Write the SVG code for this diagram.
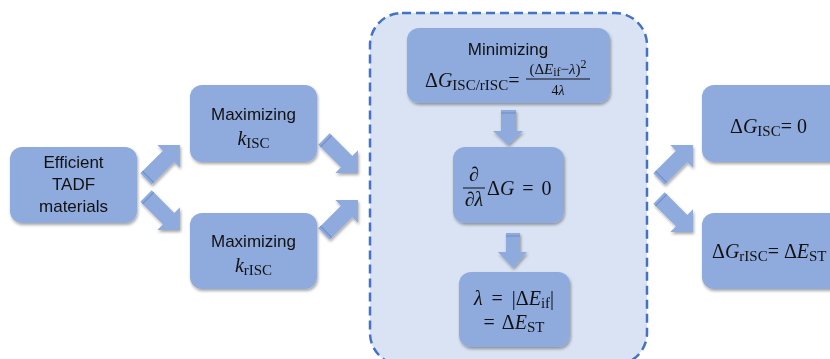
<svg xmlns="http://www.w3.org/2000/svg" width="830" height="359" viewBox="0 0 830 359">
<defs>
<filter id="sh" x="-10%" y="-10%" width="130%" height="140%">
<feDropShadow dx="1" dy="2" stdDeviation="1.5" flood-color="#000" flood-opacity="0.35"/>
</filter>
<path id="darr" d="M0,-8 L32,-8 L32,-16 L48,0 L32,16 L32,8 L0,8 Z"/>
</defs>
<style>
.box{fill:#8faadc;filter:url(#sh);}
.arr{fill:#8faadc;filter:url(#sh);}
.stripe{stroke:#6d8cc6;stroke-width:1;}
.t{font-family:"Liberation Sans","Open Sans",sans-serif;font-size:17px;fill:#111;text-anchor:middle;}
.m{font-family:"Liberation Serif","DejaVu Serif",serif;font-size:20px;fill:#111;}
.i{font-style:italic;}
.s{font-size:15px;}
.ss{font-size:12px;}
</style>
<rect x="0" y="0" width="830" height="359" fill="#fff"/>
<g id="container">
<rect x="370" y="13" width="277" height="352" rx="32" fill="#dae3f3" stroke="#4472c4" stroke-width="2.5" stroke-dasharray="9 5"/>
</g>
<g id="connectors">
<g class="arr">
<use href="#darr" transform="translate(146,179) rotate(-45)"/>
<use href="#darr" transform="translate(146,196) rotate(45)"/>
<use href="#darr" transform="translate(324,139) rotate(45)"/>
<use href="#darr" transform="translate(324,234) rotate(-45)"/>
<use href="#darr" transform="translate(659,179) rotate(-45)"/>
<use href="#darr" transform="translate(659,198) rotate(45)"/>
<path d="M501,110 L516,110 L516,131 L523,131 L508,145 L493,131 L501,131 Z"/>
<path d="M506,233 L520,233 L520,252 L527,252 L513,268 L498,252 L506,252 Z"/>
</g>
<g class="stripe">
<line x1="0" y1="-8" x2="0" y2="8" transform="translate(146,179) rotate(-45) translate(3,0)"/>
<line x1="0" y1="-8" x2="0" y2="8" transform="translate(146,196) rotate(45) translate(3,0)"/>
<line x1="0" y1="-8" x2="0" y2="8" transform="translate(324,139) rotate(45) translate(3,0)"/>
<line x1="0" y1="-8" x2="0" y2="8" transform="translate(324,234) rotate(-45) translate(3,0)"/>
<line x1="0" y1="-8" x2="0" y2="8" transform="translate(659,179) rotate(-45) translate(3,0)"/>
<line x1="0" y1="-8" x2="0" y2="8" transform="translate(659,198) rotate(45) translate(3,0)"/>
<line x1="501" y1="113" x2="516" y2="113"/>
<line x1="506" y1="236" x2="520" y2="236"/>
</g>
</g>
<g id="efficient">
<rect class="box" x="10" y="147" width="127" height="76" rx="12"/>
<text class="t" x="73.5" y="168">Efficient</text>
<text class="t" x="73.5" y="190">TADF</text>
<text class="t" x="73.5" y="212">materials</text>
</g>
<g id="max-kisc">
<rect class="box" x="190" y="85" width="127" height="77" rx="12"/>
<text class="t" x="253.5" y="120">Maximizing</text>
<text class="m" x="253.5" y="145" text-anchor="middle"><tspan class="i">k</tspan><tspan class="s" dy="3">ISC</tspan></text>
</g>
<g id="max-krisc">
<rect class="box" x="190" y="213" width="127" height="76" rx="12"/>
<text class="t" x="253.5" y="247">Maximizing</text>
<text class="m" x="253.5" y="272" text-anchor="middle"><tspan class="i">k</tspan><tspan class="s" dy="3">rISC</tspan></text>
</g>
<g id="minimizing">
<rect class="box" x="407" y="28" width="203" height="75" rx="12"/>
<text class="t" x="508" y="55">Minimizing</text>
<text class="m" x="425" y="87">Δ<tspan class="i">G</tspan><tspan class="s" dy="3">ISC/rISC</tspan><tspan dy="-3">=</tspan></text>
<text class="m" x="558" y="74" text-anchor="middle" style="font-size:15px">(Δ<tspan class="i">E</tspan><tspan class="ss" dy="2">if</tspan><tspan dy="-2">−</tspan><tspan class="i">λ</tspan>)<tspan class="ss" dy="-6">2</tspan></text>
<line x1="526" y1="79" x2="590" y2="79" stroke="#111" stroke-width="1"/>
<text class="m" x="558" y="95" text-anchor="middle" style="font-size:14px">4<tspan class="i">λ</tspan></text>
</g>
<g id="derivative">
<rect class="box" x="453" y="147" width="111" height="76" rx="12"/>
<text class="m i" x="474" y="181" text-anchor="middle">∂</text>
<line x1="463" y1="188" x2="485" y2="188" stroke="#111" stroke-width="1"/>
<text class="m" x="474" y="206" text-anchor="middle"><tspan class="i">∂λ</tspan></text>
<text class="m" x="487" y="195" style="word-spacing:3px">Δ<tspan class="i">G</tspan> = 0</text>
</g>
<g id="lambda">
<rect class="box" x="459" y="272" width="111" height="75" rx="12"/>
<text class="m" x="514" y="305" text-anchor="middle" style="word-spacing:4px"><tspan class="i">λ</tspan> = |Δ<tspan class="i">E</tspan><tspan class="s" dy="3">if</tspan><tspan dy="-3">|</tspan></text>
<text class="m" x="514" y="329" text-anchor="middle" style="word-spacing:3px">= Δ<tspan class="i">E</tspan><tspan class="s" dy="3">ST</tspan></text>
</g>
<g id="dg-isc">
<rect class="box" x="702" y="85" width="140" height="77" rx="12"/>
<text class="m" x="730" y="133">Δ<tspan class="i">G</tspan><tspan class="s" dy="3">ISC</tspan><tspan dy="-3">= 0</tspan></text>
</g>
<g id="dg-risc">
<rect class="box" x="702" y="213" width="140" height="76" rx="12"/>
<text class="m" x="712" y="258">Δ<tspan class="i">G</tspan><tspan class="s" dy="3">rISC</tspan><tspan dy="-3">= Δ</tspan><tspan class="i">E</tspan><tspan class="s" dy="3">ST</tspan></text>
</g>
</svg>
